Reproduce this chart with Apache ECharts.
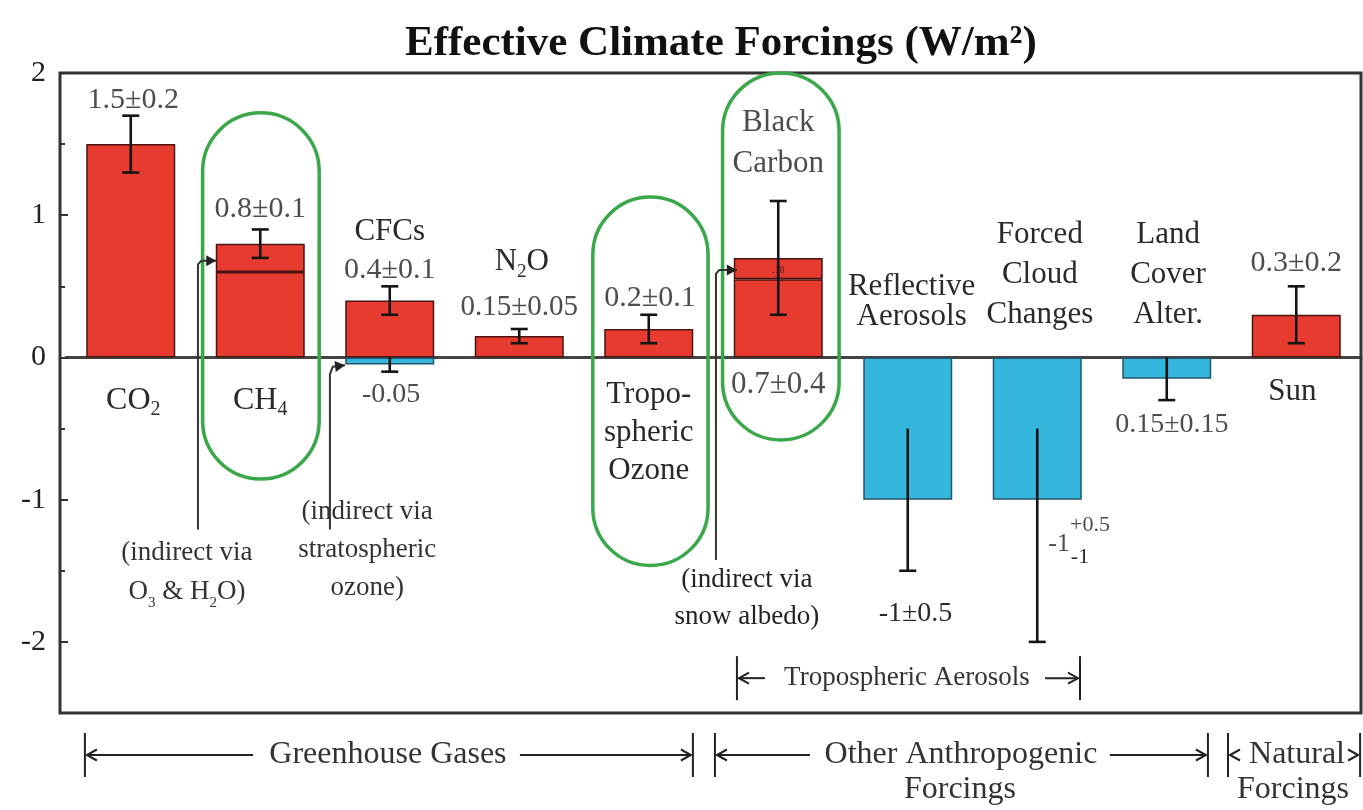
<!DOCTYPE html>
<html>
<head>
<meta charset="utf-8">
<script src="https://cdn.jsdelivr.net/npm/echarts@6/dist/echarts.min.js"></script>
<style>
  html, body { margin: 0; padding: 0; background: #fff; }
  #chart { width: 1363px; height: 810px; }
</style>
</head>
<body>
<div id="chart"></div>
<script>
// ---- data (W/m²) ----
const categories = ['CO₂', 'CH₄', 'CFCs', 'N₂O', 'Tropospheric Ozone', 'Black Carbon',
  'Reflective Aerosols', 'Forced Cloud Changes', 'Land Cover Alter.', 'Sun'];
// warming part of each forcing (direct effect)
const directForcing   = [1.5, 0.6, 0.4, 0.15, 0.2, 0.55, null, null, null, 0.3];
// indirect contribution stacked on top (CH4 via O3 & H2O, black carbon via snow albedo)
const indirectForcing = [null, 0.2, null, null, null, 0.15, null, null, null, null];
// cooling forcings
const coolingForcing  = [null, null, -0.05, null, null, null, -1, -1, -0.15, null];
// uncertainty ranges
const errorCategory = [0, 1, 2, 2, 3, 4, 5, 6, 7, 8, 9];
const errorLow      = [1.3, 0.7, 0.3, -0.1, 0.1, 0.1, 0.3, -1.5, -2, -0.3, 0.1];
const errorHigh     = [1.7, 0.9, 0.5, 0, 0.2, 0.3, 1.1, -0.5, -0.5, 0, 0.5];
// axis ticks
const yTickValues = [-2, -1, 0, 1, 2];
const yMinorTickValues = [-1.5, -0.5, 0.5, 1.5];

const SERIF = '"Liberation Serif", "Times New Roman", serif';
const RED = '#e63b2e';
const BLUE = '#35b6dc';
const INK = '#2a2a2a';
const GREY = '#4d4d4d';
const GREEN = '#3aa84a';

const chart = echarts.init(document.getElementById('chart'), null, { renderer: 'canvas' });

const barStyleRed = { color: RED, borderColor: '#4a1510', borderWidth: 1.5 };
const barStyleBlue = { color: BLUE, borderColor: '#22556e', borderWidth: 1.5 };

const errorData = errorCategory.map((c, i) => [c, errorLow[i], errorHigh[i]]);

chart.setOption({
  animation: false,
  backgroundColor: '#fff',
  title: {
    text: 'Effective Climate Forcings (W/m²)',
    left: 400, top: 17,
    textStyle: { fontFamily: SERIF, fontWeight: 'bold', fontSize: 43, color: '#111' }
  },
  grid: { left: 66, right: 2, top: 73, bottom: 97 },
  xAxis: {
    type: 'category',
    data: categories,
    axisLine: { onZero: true, lineStyle: { color: '#444', width: 3 } },
    axisTick: { show: false },
    axisLabel: { show: false },
    splitLine: { show: false }
  },
  yAxis: [
    {
      type: 'value', position: 'left', min: -2.5, max: 2, offset: 6,
      axisLine: { show: false },
      axisTick: { show: true, inside: true, length: 8, customValues: yTickValues,
        lineStyle: { color: '#333', width: 2 } },
      axisLabel: { customValues: yTickValues, margin: 14, fontFamily: SERIF, fontSize: 30, color: '#222' },
      splitLine: { show: false }
    },
    {
      type: 'value', position: 'left', min: -2.5, max: 2, offset: 6,
      axisLine: { show: false },
      axisTick: { show: true, inside: true, length: 5, customValues: yMinorTickValues,
        lineStyle: { color: '#333', width: 2 } },
      axisLabel: { show: false },
      splitLine: { show: false }
    }
  ],
  series: [
    { name: 'Direct', type: 'bar', stack: 'warming', data: directForcing,
      barWidth: 89, barGap: '-100%', itemStyle: barStyleRed },
    { name: 'Indirect', type: 'bar', stack: 'warming', data: indirectForcing,
      barWidth: 89, barGap: '-100%', itemStyle: barStyleRed },
    { name: 'Cooling', type: 'bar', data: coolingForcing,
      barWidth: 89, barGap: '-100%', itemStyle: barStyleBlue },
    {
      name: 'Uncertainty', type: 'custom', z: 5,
      data: errorData,
      encode: { x: 0, y: [1, 2] },
      renderItem: function (params, api) {
        const x = api.value(0);
        const lo = api.coord([x, api.value(1)]);
        const hi = api.coord([x, api.value(2)]);
        const half = 8.5;
        const st = { stroke: '#141414', lineWidth: 2.6 };
        const kids = [
          { type: 'line', shape: { x1: lo[0], y1: lo[1], x2: hi[0], y2: hi[1] }, style: st },
          { type: 'line', shape: { x1: lo[0] - half, y1: lo[1], x2: lo[0] + half, y2: lo[1] }, style: st }
        ];
        // the upper cap sits inside a cooling bar (or on the zero line) when the range ends at or below zero
        if (api.value(2) > 0) {
          kids.push({ type: 'line', shape: { x1: hi[0] - half, y1: hi[1], x2: hi[0] + half, y2: hi[1] }, style: st });
        }
        return { type: 'group', children: kids };
      }
    }
  ]
});

// ---- annotations positioned through the axes ----
const x0 = chart.convertToPixel({ xAxisIndex: 0 }, 0);
const band = chart.convertToPixel({ xAxisIndex: 0 }, 1) - x0;
const px = c => x0 + c * band;
const py = v => chart.convertToPixel({ yAxisIndex: 0 }, v);
const yTop = py(2), yBottom = py(-2.5);

function text(str, c, v, size, color, extra) {
  return {
    type: 'text', z: 20,
    x: px(c), y: py(v),
    style: Object.assign({
      text: str, fill: color || INK,
      font: size + 'px ' + SERIF,
      fontFamily: SERIF, fontSize: size,
      align: 'center', verticalAlign: 'middle',
      textAlign: 'center', textVerticalAlign: 'middle'
    }, extra || {})
  };
}
function chem(parts, c, v, size, color) {
  // parts: alternating normal / subscript strings
  let s = '';
  parts.forEach((p, i) => { if (p) s += '{' + (i % 2 ? 's' : 'n') + '|' + p + '}'; });
  return text(s, c, v, size, color, {
    rich: {
      n: { fontFamily: SERIF, fontSize: size, lineHeight: size + 8, fill: color || INK },
      s: { fontFamily: SERIF, fontSize: Math.round(size * 0.62), lineHeight: Math.round(size * 0.62),
           verticalAlign: 'bottom', fill: color || INK }
    }
  });
}
function oval(c, top, bottom, widthBands) {
  const w = widthBands * band;
  const y1 = py(top), y2 = py(bottom);
  return {
    type: 'rect', z: 15,
    shape: { x: px(c) - w / 2, y: y1, width: w, height: y2 - y1, r: w / 2 },
    style: { fill: null, stroke: GREEN, lineWidth: 3.5 }
  };
}
function head(tip, from, filled) {
  const dx = tip[0] - from[0], dy = tip[1] - from[1];
  const L = Math.hypot(dx, dy) || 1;
  const ux = dx / L, uy = dy / L, nx = -uy, ny = ux;
  const len = 10, wid = 5.5;
  const b = [tip[0] - ux * len, tip[1] - uy * len];
  const pts = [[b[0] + nx * wid, b[1] + ny * wid], tip, [b[0] - nx * wid, b[1] - ny * wid]];
  return filled
    ? { type: 'polygon', z: 18, shape: { points: pts }, style: { fill: '#222' } }
    : { type: 'polyline', z: 18, shape: { points: pts }, style: { stroke: '#222', lineWidth: 2, fill: null } };
}
function pointer(points) {
  const pts = points.map(p => [px(p[0]), py(p[1])]);
  const n = pts.length;
  return [
    { type: 'polyline', z: 18, shape: { points: pts }, style: { stroke: '#333', lineWidth: 2, fill: null } },
    head(pts[n - 1], pts[n - 2], true)
  ];
}
function bracket(cL, cR, y, half, segL, segR) {
  const xl = px(cL), xr = px(cR);
  const st = { stroke: '#222', lineWidth: 2, fill: null };
  const els = [
    { type: 'line', z: 18, shape: { x1: xl, y1: y - half, x2: xl, y2: y + half }, style: st },
    { type: 'line', z: 18, shape: { x1: xr, y1: y - half, x2: xr, y2: y + half }, style: st },
    head([xl + 2, y], [xl + 20, y], false),
    head([xr - 2, y], [xr - 20, y], false)
  ];
  if (segL != null) els.push({ type: 'line', z: 18, shape: { x1: xl + 2, y1: y, x2: px(segL), y2: y }, style: st });
  if (segR != null) els.push({ type: 'line', z: 18, shape: { x1: px(segR), y1: y, x2: xr - 2, y2: y }, style: st });
  return els;
}
function pxText(str, x, y, size, color, lh) {
  return {
    type: 'text', z: 20, x: x, y: y,
    style: { text: str, fill: color || INK, font: size + 'px ' + SERIF, fontFamily: SERIF, fontSize: size,
      lineHeight: lh, align: 'center', verticalAlign: 'middle', textAlign: 'center', textVerticalAlign: 'middle' }
  };
}

const groupY = yBottom + 42;     // group brackets under the frame
const aerosolV = -2.255;         // bracket for tropospheric aerosols inside the frame

const elements = [
  // frame
  { type: 'rect', z: 1, shape: { x: px(-0.5) - 6, y: yTop, width: 1361 - (px(-0.5) - 6), height: yBottom - yTop },
    style: { fill: null, stroke: '#333', lineWidth: 3 } },

  // value labels and names
  text('1.5±0.2', 0.02, 1.81, 30, GREY),
  chem(['CO', '2'], 0.02, -0.30, 32),
  text('0.8±0.1', 1.0, 1.04, 30, GREY),
  chem(['CH', '4'], 1.0, -0.30, 32),
  text('CFCs', 2.0, 0.88, 31),
  text('0.4±0.1', 2.0, 0.615, 30, GREY),
  text('-0.05', 2.01, -0.265, 28, GREY),
  chem(['N', '2', 'O'], 3.02, 0.67, 31),
  text('0.15±0.05', 3.0, 0.35, 29, GREY),
  text('0.2±0.1', 4.01, 0.42, 30, GREY),
  text('Tropo-\nspheric\nOzone', 4.0, -0.53, 31, INK, { lineHeight: 38 }),
  text('Black\nCarbon', 5.0, 1.505, 31, GREY, { lineHeight: 41 }),
  text('.18', 5.0, 0.615, 10, '#5a1a14'),
  text('0.7±0.4', 5.0, -0.19, 31, GREY),
  text('Reflective\nAerosols', 6.03, 0.39, 31, INK, { lineHeight: 30 }),
  text('Forced\nCloud\nChanges', 7.02, 0.58, 31, INK, { lineHeight: 40 }),
  text('Land\nCover\nAlter.', 8.01, 0.58, 31, INK, { lineHeight: 40 }),
  text('0.15±0.15', 8.04, -0.47, 28, GREY),
  text('0.3±0.2', 9.0, 0.66, 30, GREY),
  text('Sun', 8.97, -0.245, 31),
  text('-1±0.5', 6.06, -1.80, 28, INK),
  text('-1', 7.168, -1.312, 26, GREY),
  text('+0.5', 7.407, -1.179, 22, GREY),
  text('-1', 7.33, -1.404, 22, INK),

  // indirect-effect notes
  text('{t|(indirect via}\n{t|O}{s|3}{t| & H}{s|2}{t|O)}', 0.434, -1.509, 27, '#333', {
    rich: {
      t: { fontFamily: SERIF, fontSize: 27, lineHeight: 39, fill: '#333' },
      s: { fontFamily: SERIF, fontSize: 15, lineHeight: 15, verticalAlign: 'bottom', fill: '#333' }
    }
  }),
  text('(indirect via\nstratospheric\nozone)', 1.826, -1.354, 27, '#333', { lineHeight: 38 }),
  text('(indirect via\nsnow albedo)', 4.758, -1.692, 27, '#222', { lineHeight: 37 }),

  // ovals around the ozone-related forcings
  oval(1.005, 1.72, -0.855, 0.9),
  oval(4.013, 1.128, -1.463, 0.89),
  oval(5.02, 2.0, -0.58, 0.9),

  // pointers from notes to bars
  ...pointer([[0.519, -1.21], [0.519, 0.655], [0.545, 0.68], [0.66, 0.68]]),
  ...pointer([[1.538, -1.21], [1.538, -0.12], [1.56, -0.065], [1.655, -0.055]]),
  ...pointer([[4.519, -1.425], [4.519, 0.59], [4.545, 0.615], [4.68, 0.615]]),

  // tropospheric aerosols bracket
  ...bracket(4.681, 7.330, py(aerosolV), 22, 4.897, 7.060),
  text('Tropospheric Aerosols', 5.994, aerosolV, 27, '#333'),

  // group brackets under the frame
  ...bracket(-0.354, 4.341, groupY, 22, 0.944, 3.005),
  pxText('Greenhouse Gases', px(1.986), groupY, 32, '#333'),
  ...bracket(4.511, 8.318, groupY, 22, 5.245, 7.561),
  pxText('Other Anthropogenic', px(6.411), groupY, 32, '#333'),
  pxText('Forcings', px(6.403), groupY + 35, 32, '#333'),
  ...bracket(8.473, 9.493, groupY, 22, null, null),
  pxText('Natural', px(9.006), groupY, 32, '#333'),
  pxText('Forcings', px(8.975), groupY + 35, 32, '#333')
];

chart.setOption({ graphic: { elements: elements } });
</script>
</body>
</html>
